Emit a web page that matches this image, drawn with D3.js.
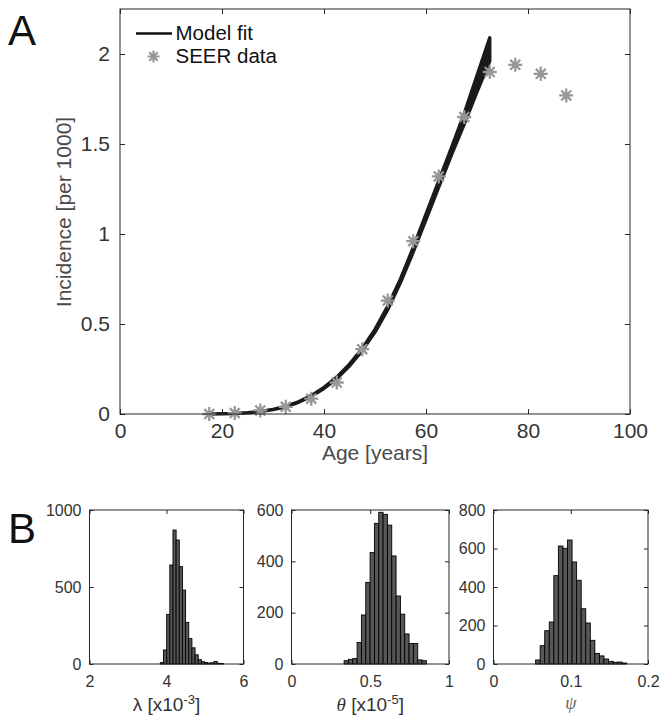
<!DOCTYPE html>
<html><head><meta charset="utf-8">
<script src="https://cdn.jsdelivr.net/npm/d3@7"></script>
<style>
body{margin:0;background:#fff;}
svg{display:block;font-family:"Liberation Sans",Arial,Helvetica,sans-serif;}
</style></head>
<body>
<svg id="chart" width="668" height="724"></svg>
<script>
// ---------- data ----------
const seerAges = [17.5,22.5,27.5,32.5,37.5,42.5,47.5,52.5,57.5,62.5,67.5,72.5,77.5,82.5,87.5];
const seerValues = [0.0,0.005,0.02,0.04,0.085,0.175,0.36,0.63,0.96,1.32,1.65,1.90,1.94,1.89,1.77];
const fitAges = [17.5,20,22.5,25,27.5,30,32.5,35,37.5,40,42.5,45,47.5,50,52.5,55,57.5,60,62.5,65,67.5,70,72.5];
const fitLower = [0,0.001,0.003,0.007,0.013,0.024,0.04,0.065,0.098,0.142,0.197,0.267,0.352,0.455,0.58,0.73,0.9,1.08,1.26,1.44,1.61,1.79,1.96];
const fitUpper = [0,0.001,0.003,0.007,0.014,0.025,0.042,0.068,0.102,0.148,0.205,0.277,0.364,0.47,0.6,0.75,0.925,1.11,1.295,1.48,1.67,1.88,2.09];
const ageTicks = [0,20,40,60,80,100];
const incTicks = [0,0.5,1,1.5,2];

const lambdaStart = 3.84, lambdaWidth = 0.082;
const lambdaCounts = [9,91,322,643,870,805,632,480,270,165,105,60,28,15,10,6,8,17,5,3];
const lambdaXTicks = [2,4,6], lambdaYTicks = [0,500,1000];

const thetaStart = 0.334, thetaWidth = 0.0275;
const thetaCounts = [13,18,21,84,191,318,434,548,591,583,541,421,265,194,117,80,80,16,13];
const thetaXTicks = [0,0.5,1], thetaYTicks = [0,200,400,600];

const psiStart = 0.0545, psiWidth = 0.0059;
const psiCounts = [21,95,173,218,459,613,601,644,530,435,287,213,123,55,42,26,14,9,10,5];
const psiXTicks = [0,0.1,0.2], psiYTicks = [0,200,400,600,800];

// ---------- helpers ----------
const svg = d3.select("#chart");
const axisColor = "#262626";
function fmt(d){ return String(d); }

function frame(g, x, y, xt, yt, tickLen, fontSize, padX, padY){
  const [x0,x1] = x.range(), [y0,y1] = y.range();
  const ab = d3.axisBottom(x).tickValues(xt).tickFormat(fmt).tickSizeInner(-tickLen).tickSizeOuter(0).tickPadding(padX);
  const gb = g.append("g").attr("transform",`translate(0,${y0})`).call(ab);
  const at = d3.axisTop(x).tickValues(xt).tickFormat("").tickSizeInner(-tickLen).tickSizeOuter(0);
  const gt = g.append("g").attr("transform",`translate(0,${y1})`).call(at);
  const al = d3.axisLeft(y).tickValues(yt).tickFormat(fmt).tickSizeInner(-tickLen).tickSizeOuter(0).tickPadding(padY);
  const gl = g.append("g").attr("transform",`translate(${x0},0)`).call(al);
  const ar = d3.axisRight(y).tickValues(yt).tickFormat("").tickSizeInner(-tickLen).tickSizeOuter(0);
  const gr = g.append("g").attr("transform",`translate(${x1},0)`).call(ar);
  [gb,gt,gl,gr].forEach(a=>{
    a.select(".domain").remove();
    a.selectAll("line").attr("stroke",axisColor).attr("stroke-width",1);
    a.selectAll("text").attr("fill","#333").attr("font-size",fontSize)
      .attr("font-family",'"Liberation Sans",Arial,sans-serif');
  });
  g.append("rect").attr("x",x0).attr("y",y1).attr("width",x1-x0).attr("height",y0-y1)
    .attr("fill","none").attr("stroke",axisColor).attr("stroke-width",1);
}

function starPath(r){
  const d = r*0.7071;
  return `M${-r},0L${r},0M0,${-r}L0,${r}M${-d},${-d}L${d},${d}M${-d},${d}L${d},${-d}`;
}

// ---------- Panel A ----------
const xA = d3.scaleLinear().domain([0,100]).range([120,630]);
const yA = d3.scaleLinear().domain([0,2.25]).range([414,9]);
const gA = svg.append("g");

const fitData = fitAges.map((a,i)=>({a, lo:fitLower[i], hi:fitUpper[i]}));
const band = d3.area().x(d=>xA(d.a)).y0(d=>yA(d.lo)).y1(d=>yA(d.hi));
gA.append("path").datum(fitData).attr("d",band)
  .attr("fill","#1a1a1a").attr("stroke","#1a1a1a").attr("stroke-width",3.4).attr("stroke-linejoin","round");

gA.append("g").selectAll("path").data(seerAges.map((a,i)=>({a,v:seerValues[i]}))).join("path")
  .attr("transform",d=>`translate(${xA(d.a)},${yA(d.v)})`)
  .attr("d",starPath(7)).attr("stroke","#979797").attr("stroke-width",2.3).attr("fill","none");

frame(gA, xA, yA, ageTicks, incTicks, 5, 21, 9, 10);

gA.append("text").attr("x",(120+630)/2).attr("y",460).attr("text-anchor","middle")
  .attr("font-size",21).attr("fill","#4a4a4a").text("Age [years]");
gA.append("text").attr("transform",`translate(71,212) rotate(-90)`).attr("text-anchor","middle")
  .attr("font-size",21).attr("fill","#4a4a4a").text("Incidence [per 1000]");

// legend
gA.append("line").attr("x1",136).attr("x2",172).attr("y1",33.5).attr("y2",33.5)
  .attr("stroke","#111").attr("stroke-width",2.6);
gA.append("text").attr("x",175.5).attr("y",39.5).attr("font-size",20.5).attr("fill","#111").text("Model fit");
gA.append("path").attr("transform","translate(153.5,56.5)").attr("d",starPath(6))
  .attr("stroke","#979797").attr("stroke-width",2.2).attr("fill","none");
gA.append("text").attr("x",175.5).attr("y",62.5).attr("font-size",20.5).attr("fill","#111").text("SEER data");

svg.append("text").attr("x",8).attr("y",45).attr("font-size",42).attr("fill","#111").text("A");
svg.append("text").attr("x",8).attr("y",543).attr("font-size",42).attr("fill","#111").text("B");

// ---------- Panel B histograms ----------
function hist(x0px, x1px, dom, start, width, counts, xt, yt, ymax){
  const x = d3.scaleLinear().domain(dom).range([x0px,x1px]);
  const y = d3.scaleLinear().domain([0,ymax]).range([664,510]);
  const g = svg.append("g");
  const bins = counts.map((c,i)=>({x0:start+i*width, x1:start+(i+1)*width, c}));
  g.append("g").selectAll("rect").data(bins).join("rect")
    .attr("x",d=>x(d.x0)).attr("width",d=>x(d.x1)-x(d.x0))
    .attr("y",d=>y(d.c)).attr("height",d=>y(0)-y(d.c))
    .attr("fill","#575757").attr("stroke","#000").attr("stroke-width",0.9);
  frame(g, x, y, xt, yt, 4, 16, 12, 8);
  return {g, cx:(x0px+x1px)/2};
}

const h1 = hist(89.5,243.5,[2,6],lambdaStart,lambdaWidth,lambdaCounts,lambdaXTicks,lambdaYTicks,1000);
const h2 = hist(291.5,449,[0,1],thetaStart,thetaWidth,thetaCounts,thetaXTicks,thetaYTicks,600);
const h3 = hist(493.5,648,[0,0.2],psiStart,psiWidth,psiCounts,psiXTicks,psiYTicks,800);

const t1 = h1.g.append("text").attr("x",h1.cx).attr("y",711).attr("text-anchor","middle")
  .attr("font-size",19).attr("fill","#333");
t1.append("tspan").text("λ [x10");
t1.append("tspan").attr("dy",-7).attr("font-size",13).text("-3");
t1.append("tspan").attr("dy",7).text("]");

const t2 = h2.g.append("text").attr("x",h2.cx).attr("y",711).attr("text-anchor","middle")
  .attr("font-size",19).attr("fill","#333");
t2.append("tspan").attr("font-family",'"Liberation Serif","DejaVu Serif",serif').attr("font-style","italic").text("θ");
t2.append("tspan").text(" [x10");
t2.append("tspan").attr("dy",-7).attr("font-size",13).text("-5");
t2.append("tspan").attr("dy",7).text("]");

h3.g.append("text").attr("x",h3.cx).attr("y",709).attr("text-anchor","middle")
  .attr("font-size",18).attr("fill","#666")
  .attr("font-family",'"Liberation Serif","DejaVu Serif",serif').attr("font-style","italic").text("ψ");
</script>
</body></html>
